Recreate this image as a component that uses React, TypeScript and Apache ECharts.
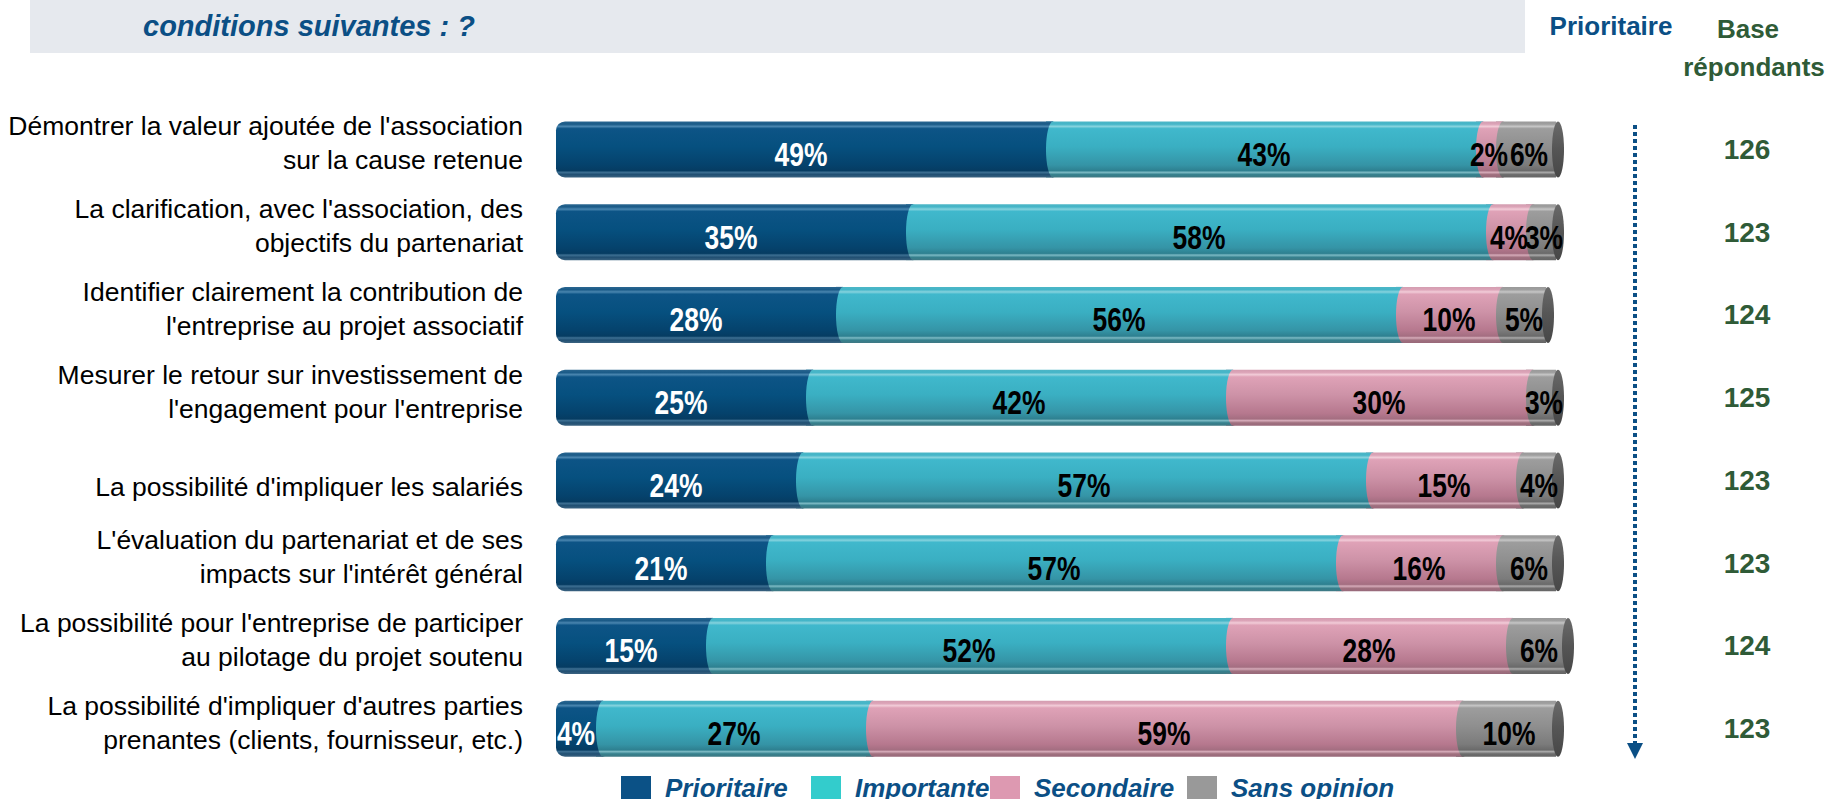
import React, { useEffect, useRef } from "react";
import * as echarts from "echarts";

const categories = [
  "Démontrer la valeur ajoutée de l'association\nsur la cause retenue",
  "La clarification, avec l'association, des\nobjectifs du partenariat",
  "Identifier clairement la contribution de\nl'entreprise au projet associatif",
  "Mesurer le retour sur investissement de\nl'engagement pour l'entreprise",
  "La possibilité d'impliquer les salariés",
  "L'évaluation du partenariat et de ses\nimpacts sur l'intérêt général",
  "La possibilité pour l'entreprise de participer\nau pilotage du projet soutenu",
  "La possibilité d'impliquer d'autres parties\nprenantes (clients, fournisseur, etc.)",
];
const prioritaire = [49, 35, 28, 25, 24, 21, 15, 4];
const importante = [43, 58, 56, 42, 57, 57, 52, 27];
const secondaire = [2, 4, 10, 30, 15, 16, 28, 59];
const sansOpinion = [6, 3, 5, 3, 4, 6, 6, 10];
const bases = ["126", "123", "124", "125", "123", "123", "124", "123"];
const seriesNames = ["Prioritaire", "Importante", "Secondaire", "Sans opinion"];

const SANS = "'Liberation Sans', Arial, sans-serif";
const BLUE = "#0b4f85";
const GREEN = "#2f5b37";

const lg = (stops: [number, string][]) =>
  new echarts.graphic.LinearGradient(0, 0, 0, 1, stops.map(([offset, color]) => ({ offset, color })));

const grads = [
  lg([[0, "#2b6791"], [0.05, "#1a5a87"], [0.09, "#4a86b0"], [0.13, "#0d5486"], [0.45, "#06507f"], [0.78, "#05426c"], [0.88, "#063c62"], [0.91, "#3d6f92"], [0.95, "#204f72"], [1, "#3a6280"]]),
  lg([[0, "#4db6c6"], [0.05, "#44b5c8"], [0.09, "#86d3de"], [0.13, "#40b8cc"], [0.45, "#3aafc2"], [0.78, "#3594a6"], [0.88, "#2e8090"], [0.91, "#7cbac4"], [0.95, "#35808d"], [1, "#3f7984"]]),
  lg([[0, "#d39db0"], [0.05, "#dca4b8"], [0.09, "#f2ccd8"], [0.13, "#dfa2b7"], [0.45, "#cd92a7"], [0.78, "#b6788e"], [0.88, "#a46e81"], [0.91, "#d6abb9"], [0.95, "#a0707f"], [1, "#98697a"]]),
  lg([[0, "#999999"], [0.05, "#9f9f9f"], [0.09, "#c6c6c6"], [0.13, "#9d9d9d"], [0.45, "#8f8f8f"], [0.78, "#7b7b7b"], [0.88, "#6a6a6a"], [0.91, "#aaaaaa"], [0.95, "#6c6c6c"], [1, "#666666"]]),
];
const capGrad = lg([[0, "#6a6a6a"], [0.5, "#555555"], [1, "#474747"]]);
const legendColors = ["#0b5186", "#33cccc", "#dd99b1", "#999999"];
const legendLefts = [621, 811, 990, 1187];
const labelColors = ["#ffffff", "#000000", "#000000", "#000000"];

const values = [prioritaire, importante, secondaire, sansOpinion];
const RX = 7;
const HALF = 28;

export default function App() {
  const ref = useRef<HTMLDivElement>(null);
  useEffect(() => {
    if (!ref.current) return;
    const chart = echarts.init(ref.current, undefined, { renderer: "svg" });
    const barSeries = seriesNames.map((name, k) => ({
      name,
      type: "bar",
      stack: "total",
      barWidth: HALF * 2,
      data: values[k],
      itemStyle: {
        color: grads[k],
        borderRadius: k === 0 ? [9, 0, 0, 9] : 0,
      },
    }));
    const decoSeries = {
      name: "cylindres",
      type: "custom",
      silent: true,
      z: 3,
      data: categories.map((_, i) => [0, i]),
      encode: { x: 0, y: 1 },
      renderItem: (params: any, api: any) => {
        const i = api.value(1);
        const segs = values.map((v) => v[i]);
        const shapes: any[] = [];
        const texts: any[] = [];
        let acc = 0;
        segs.forEach((v, k) => {
          const start = acc;
          acc += v;
          const p = api.coord([start, i]);
          const q = api.coord([acc, i]);
          if (k > 0) {
            shapes.push({
              type: "rect",
              shape: { x: p[0], y: p[1] - HALF, width: RX, height: HALF * 2 },
              style: { fill: grads[k - 1] },
            });
            shapes.push({
              type: "ellipse",
              shape: { cx: p[0] + RX, cy: p[1], rx: RX, ry: HALF },
              style: { fill: grads[k] },
            });
          }
          texts.push({
            type: "text",
            x: (p[0] + q[0]) / 2 + (k > 0 ? 3 : 0),
            y: p[1] + 5,
            scaleX: 0.8,
            style: {
              text: v + "%",
              fontFamily: SANS,
              fontWeight: "bold",
              fontSize: 33,
              fill: labelColors[k],
              align: "center",
              verticalAlign: "middle",
            },
          });
        });
        const e = api.coord([acc, i]);
        shapes.push({
          type: "ellipse",
          shape: { cx: e[0] + 2, cy: e[1], rx: 6, ry: HALF },
          style: { fill: capGrad },
        });
        return { type: "group", children: [...shapes, ...texts] };
      },
    };
    chart.setOption({
      animation: false,
      title: {
        text: "conditions suivantes : ?",
        left: 138,
        top: 6,
        textStyle: { fontFamily: SANS, fontSize: 29, fontWeight: "bold", fontStyle: "italic", color: BLUE },
      },
      legend: seriesNames.map((name, k) => ({
        data: [{ name, itemStyle: { color: legendColors[k] } }],
        left: legendLefts[k],
        top: 775,
        padding: 0,
        icon: "rect",
        itemWidth: 30,
        itemHeight: 24,
        selectedMode: false,
        textStyle: {
          fontFamily: SANS,
          fontSize: 26,
          fontWeight: "bold",
          fontStyle: "italic",
          color: BLUE,
          padding: [0, 0, 20, 9],
        },
      })),
      grid: { left: 556, right: 173, top: 108, bottom: 29, containLabel: false },
      xAxis: { type: "value", min: 0, max: 110, show: false },
      yAxis: [
        {
          type: "category",
          data: categories,
          inverse: true,
          axisLine: { show: false },
          axisTick: { show: false },
          axisLabel: {
            fontFamily: SANS,
            fontSize: 26.5,
            lineHeight: 34,
            color: "#000000",
            margin: 33,
            align: "right",
            padding: [0, 0, 12, 0],
            formatter: (v: string) => (v.indexOf("\n") >= 0 ? v : "{one|" + v + "}"),
            rich: {
              one: { fontFamily: SANS, fontSize: 26.5, lineHeight: 34, color: "#000000", padding: [26, 0, 0, 0] },
            },
          },
        },
        {
          type: "category",
          data: bases,
          inverse: true,
          position: "right",
          axisLine: { show: false },
          axisTick: { show: false },
          axisLabel: {
            fontFamily: SANS,
            fontSize: 28,
            fontWeight: "bold",
            color: GREEN,
            margin: 91,
            align: "center",
            padding: [6, 0, 0, 0],
          },
        },
      ],
      series: [...barSeries, decoSeries],
      graphic: [
        { type: "rect", z: -1, shape: { x: 30, y: 0, width: 1495, height: 53 }, style: { fill: "#e6e9ee" } },
        { type: "text", x: 1611, y: 26, style: { text: "Prioritaire", fontFamily: SANS, fontSize: 26, fontWeight: "bold", fill: BLUE, align: "center", verticalAlign: "middle" } },
        { type: "text", x: 1748, y: 29, style: { text: "Base", fontFamily: SANS, fontSize: 26, fontWeight: "bold", fill: GREEN, align: "center", verticalAlign: "middle" } },
        { type: "text", x: 1754, y: 67, style: { text: "répondants", fontFamily: SANS, fontSize: 26, fontWeight: "bold", fill: GREEN, align: "center", verticalAlign: "middle" } },
        { type: "line", shape: { x1: 1635, y1: 125, x2: 1635, y2: 744 }, style: { stroke: BLUE, lineWidth: 4, lineDash: [4, 3] } },
        { type: "polygon", shape: { points: [[1627, 743], [1643, 743], [1635, 759]] }, style: { fill: BLUE } },
      ],
    });
    return () => chart.dispose();
  }, []);
  return <div ref={ref} style={{ position: "absolute", left: 0, top: 0, width: 1829, height: 799 }} />;
}
